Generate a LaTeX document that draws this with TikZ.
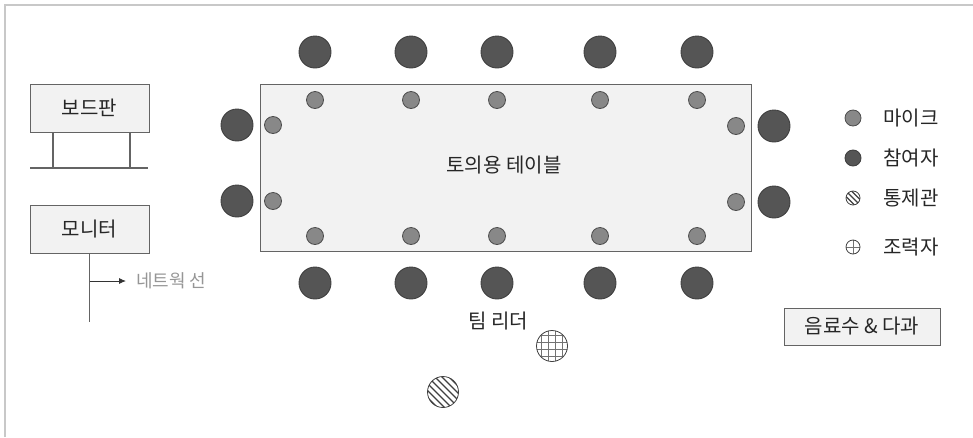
\documentclass[tikz,border=0pt]{standalone}
\usepackage{fontspec}
\setmainfont{Noto Sans CJK KR}
\usetikzlibrary{arrows.meta,positioning}
\definecolor{partgrey}{RGB}{85,85,85}
\definecolor{micgrey}{RGB}{136,136,136}
\definecolor{boxfill}{RGB}{242,242,242}
\definecolor{edgegrey}{RGB}{100,100,100}
\definecolor{framegrey}{RGB}{200,200,200}
\definecolor{netgrey}{RGB}{150,150,150}

\begin{document}
\begin{tikzpicture}[x=1pt,y=-1pt, every node/.style={font=\fontsize{20}{23}\selectfont,text=black!85},
  part/.style={circle,draw=black!75,fill=partgrey,line width=0.9pt,inner sep=0pt,minimum size=32pt},
  mic/.style={circle,draw=black!70,fill=micgrey,line width=0.8pt,inner sep=0pt,minimum size=17pt},
  box/.style={draw=edgegrey,fill=boxfill,line width=0.9pt,inner sep=0pt},
  hatch/.style={circle,draw=black!75,fill=white,line width=0.8pt,inner sep=0pt,
    path picture={\foreach \k in {-5,...,5}
      \draw[line width=0.2*#1,black!75] ([xshift=\k*#1]path picture bounding box.center)
        ++(-20pt,20pt) -- ++(40pt,-40pt);}},
  grid/.style={circle,draw=black!75,fill=white,line width=0.8pt,inner sep=0pt,
    path picture={\foreach \k in {#1} {
      \draw[line width=0.6pt,black!55] ([xshift=\k pt]path picture bounding box.center)
        ++(0,-20pt) -- ++(0,40pt);
      \draw[line width=0.6pt,black!55] ([yshift=\k pt]path picture bounding box.center)
        ++(-20pt,0) -- ++(40pt,0);}}},
  ar/.style={-{Latex[length=7pt,width=6pt]},black!80,line width=0.9pt}]

\useasboundingbox (0,0) rectangle (973,437);
\draw[framegrey,line width=1.5pt] (5,437) -- (5,5) -- (973,5);

% table
\node[box,minimum width=491pt,minimum height=167pt] (tbl) at (505.5,167.5) {};
\node (tbllbl) at (504,165) {토의용 테이블};

% participants and microphones
\foreach \x [count=\n] in {315,411,497,600,697} {
  \node[part] (pt\n) at (\x,52) {};
  \node[mic]  (mt\n) at (\x,100) {};
  \node[part] (pb\n) at (\x,283) {};
  \node[mic]  (mb\n) at (\x,236) {};
}
\foreach \y [count=\n] in {125,201} {
  \node[part] (pl\n) at (237,\y) {};
  \node[mic]  (ml\n) at (273,\y) {};
  \node[part] (pr\n) at (774,\y+1) {};
  \node[mic]  (mr\n) at (736,\y+1) {};
}

% board
\node[box,minimum width=119pt,minimum height=48pt] (board) at (89.5,108) {보드판};
\coordinate (baseL) at (30,168);
\coordinate (baseR) at (148,168);
\coordinate (legA) at (53,168);
\coordinate (legB) at (130,168);
\draw[edgegrey,line width=1.2pt] (baseL) -- (baseR);
\foreach \l in {legA,legB} \draw[edgegrey,line width=1.2pt] (\l |- board.south) -- (\l);

% monitor and network line
\node[box,minimum width=119pt,minimum height=48pt] (mon) at (89.5,229) {모니터};
\coordinate (netend) at (89.5,322);
\coordinate (tap) at (89.5,281);
\node[anchor=west,inner xsep=10pt,text=netgrey,font=\fontsize{18}{20}\selectfont] (net) at (126,281) {네트웍 선};
\draw[edgegrey,line width=1.2pt] (mon.south) -- (netend);
\draw[ar] (tap) -- (net.west);

% team leader
\node (lead) at (498,321) {팀 리더};
\node[grid={-10.5,-3.5,3.5,10.5},minimum size=31pt] (helper) at (552,346) {};
\node[hatch=7pt,minimum size=31pt] (ctrl) at (443,392) {};

% drinks
\node[box,minimum width=156pt,minimum height=37pt] (drink) at (862,326.5) {음료수 \& 다과};

% legend
\node[mic,minimum size=16pt] (lgmic) at (853,118) {};
\node[part,minimum size=16pt] (lgpart) at (853,158) {};
\node[hatch=5.5pt,minimum size=14pt] (lgctrl) at (853,198) {};
\node[grid={0},minimum size=14pt] (lghelp) at (853,247) {};
\foreach \s/\t in {lgmic/마이크,lgpart/참여자,lgctrl/통제관,lghelp/조력자}
  \node[anchor=west] (\s txt) at (880,0 |- \s) {\t};
\end{tikzpicture}
\end{document}
